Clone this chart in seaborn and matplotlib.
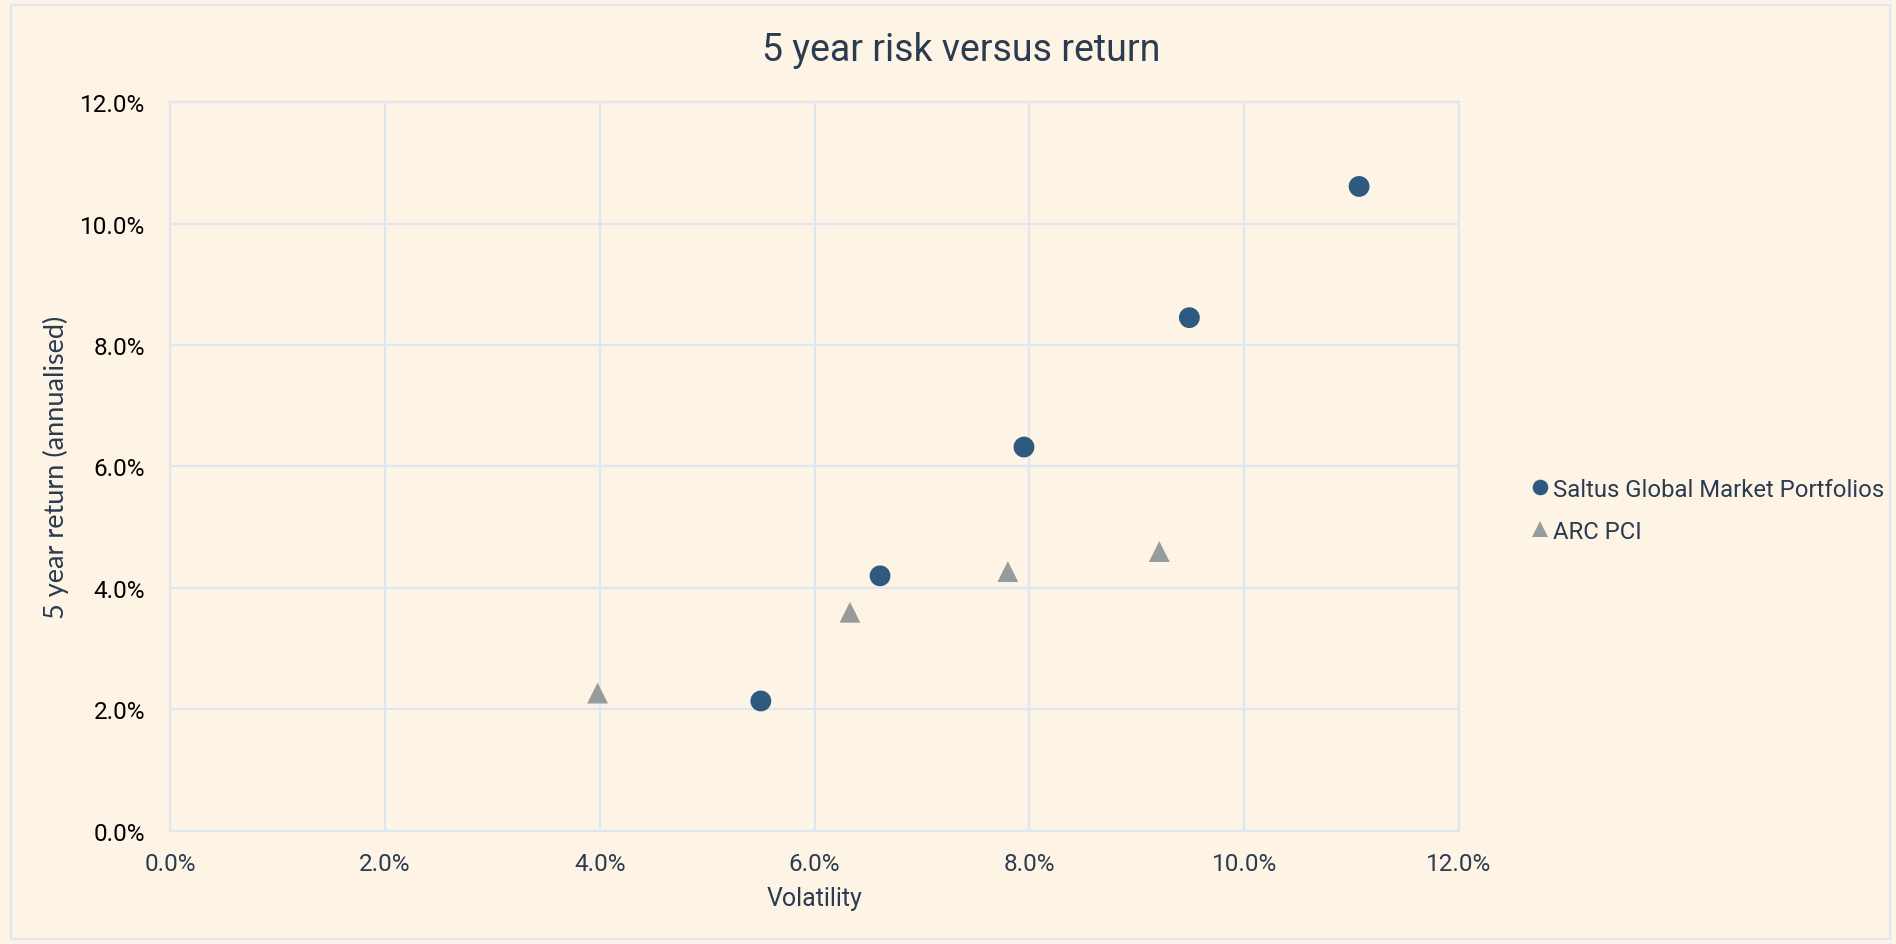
import matplotlib
matplotlib.use("Agg")
import matplotlib.pyplot as plt
import matplotlib.patches as patches
from matplotlib.ticker import FuncFormatter, MultipleLocator
import seaborn as sns
import pandas as pd

# values (percent)
saltus_vol = [5.50, 6.61, 7.95, 9.49, 11.07]
saltus_ret = [2.14, 4.20, 6.32, 8.45, 10.61]
arc_vol = [3.98, 6.33, 7.80, 9.21]
arc_ret = [2.27, 3.60, 4.27, 4.60]
series_names = ["Saltus Global Market Portfolios", "ARC PCI"]

bg = "#FEF4E6"
grid_col = "#DEE7F0"
navy = "#2F5A80"
grey = "#969B9B"
text_col = "#2B3B50"

df = pd.DataFrame({
    "vol": saltus_vol + arc_vol,
    "ret": saltus_ret + arc_ret,
    "series": [series_names[0]] * len(saltus_vol) + [series_names[1]] * len(arc_vol),
})

sns.set_theme(style="white")
plt.rcParams["font.family"] = ["Roboto", "DejaVu Sans"]

fig = plt.figure(figsize=(18.96, 9.45), dpi=100, facecolor=bg)
ax = fig.add_axes([0.0897, 0.1196, 0.6798, 0.7714])
ax.set_facecolor(bg)

sns.scatterplot(data=df, x="vol", y="ret", hue="series", style="series",
                palette=[navy, grey], markers=["o", "^"], s=225,
                linewidth=0, ax=ax, zorder=3)

ax.set_xlim(0, 12)
ax.set_ylim(0, 12)
ax.xaxis.set_major_locator(MultipleLocator(2))
ax.yaxis.set_major_locator(MultipleLocator(2))
fmt = FuncFormatter(lambda v, p: f"{v:.1f}%")
ax.xaxis.set_major_formatter(fmt)
ax.yaxis.set_major_formatter(fmt)
ax.grid(True, color=grid_col, linewidth=1.6)
ax.set_axisbelow(True)
for sp in ax.spines.values():
    sp.set_color(grid_col)
    sp.set_linewidth(1.6)
ax.tick_params(axis="x", labelsize=17.5, colors=text_col, pad=15, length=0)
ax.tick_params(axis="y", labelsize=17.5, colors="black", pad=18, length=0)

ax.set_xlabel("Volatility", fontsize=18, color=text_col, labelpad=8)
ax.set_ylabel("5 year return (annualised)", fontsize=19.5, color=text_col,
              labelpad=8, family=["Lato", "DejaVu Sans"])

fig.text(0.507, 0.947, "5 year risk versus return", ha="center", va="center",
         fontsize=27, color=text_col)

leg = ax.legend(loc="center left", bbox_to_anchor=(1.0, 0.44), frameon=False,
                fontsize=17.2, handlelength=0.6, handletextpad=0.25,
                labelspacing=0.8, markerscale=0.75, borderaxespad=2.7)
for t in leg.get_texts():
    t.set_color(text_col)

fig.patches.append(patches.Rectangle((11 / 1896, 5 / 945), 1 - 17 / 1896, 1 - 11 / 945,
                                     transform=fig.transFigure, fill=False,
                                     edgecolor=grid_col, linewidth=1.6))

plt.savefig("out.png", dpi=100, facecolor=bg)
plt.close()
